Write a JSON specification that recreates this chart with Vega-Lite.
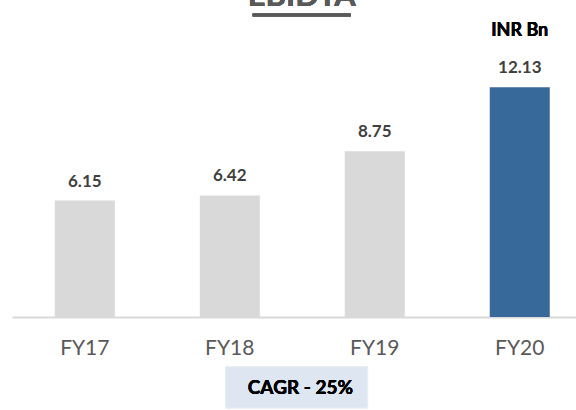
{
  "$schema": "https://vega.github.io/schema/vega-lite/v6.json",
  "autosize": "none",
  "width": 564,
  "height": 284,
  "padding": {"left": 12, "top": 33, "right": 0, "bottom": 93},
  "data": {
    "values": [
      {"year": "FY17", "value": 6.15, "label": "6.15", "group": "past"},
      {"year": "FY18", "value": 6.42, "label": "6.42", "group": "past"},
      {"year": "FY19", "value": 8.75, "label": "8.75", "group": "past"},
      {"year": "FY20", "value": 12.13, "label": "12.13", "group": "current"}
    ]
  },
  "layer": [
    {
      "mark": {"type": "bar"},
      "encoding": {
        "x": {
          "field": "year", "type": "nominal",
          "scale": {"domain": ["FY17", "FY18", "FY19", "FY20"], "paddingInner": 0.586, "paddingOuter": 0.238, "align": 0.62},
          "axis": {
            "title": null, "ticks": false, "domainColor": "#d9d9d9", "domainWidth": 2,
            "labelFont": "Lato", "labelFontSize": 21, "labelColor": "#595959", "labelPadding": 20, "labelAngle": 0
          }
        },
        "y": {
          "field": "value", "type": "quantitative",
          "scale": {"domain": [0, 15], "nice": false},
          "axis": null
        },
        "color": {
          "field": "group", "type": "nominal",
          "scale": {"domain": ["past", "current"], "range": ["#d9d9d9", "#376a9a"]},
          "legend": null
        }
      }
    },
    {
      "mark": {"type": "text", "font": "Lato", "fontSize": 17, "fontWeight": "bold", "color": "#404040", "baseline": "alphabetic", "dy": -14},
      "encoding": {
        "x": {"field": "year", "type": "nominal"},
        "y": {"field": "value", "type": "quantitative"},
        "text": {"field": "label"}
      }
    },
    {
      "mark": {"type": "text", "font": "Lato", "fontSize": 18, "fontWeight": "bold", "color": "#000000", "baseline": "alphabetic", "text": "INR Bn"},
      "encoding": {
        "x": {"datum": "FY20"},
        "y": {"datum": 14.82}
      }
    },
    {
      "mark": {"type": "text", "font": "Lato", "fontSize": 31, "fontWeight": "bold", "color": "#595959", "baseline": "alphabetic", "align": "center", "text": "EBIDTA"},
      "encoding": {
        "x": {"datum": "FY18", "bandPosition": 1.7},
        "y": {"datum": 16.45}
      }
    },
    {
      "mark": {"type": "rule", "color": "#595959", "strokeWidth": 3},
      "encoding": {
        "x": {"datum": "FY18", "bandPosition": 0.88},
        "x2": {"datum": "FY19", "bandPosition": 0.1},
        "y": {"datum": 15.95}
      }
    },
    {
      "mark": {"type": "rect", "fill": "#dde6f1", "stroke": "#e6edf5", "strokeWidth": 1},
      "encoding": {
        "x": {"datum": "FY18", "bandPosition": 0.43},
        "x2": {"datum": "FY19", "bandPosition": 0.38},
        "y": {"datum": -2.64},
        "y2": {"datum": -4.8}
      }
    },
    {
      "mark": {"type": "text", "font": "Lato", "fontSize": 19, "fontWeight": "bold", "color": "#000000", "baseline": "middle", "align": "left", "text": "CAGR - 25%"},
      "encoding": {
        "x": {"datum": "FY18", "bandPosition": 0.8},
        "y": {"datum": -3.74}
      }
    }
  ],
  "config": {"view": {"stroke": null}}
}
